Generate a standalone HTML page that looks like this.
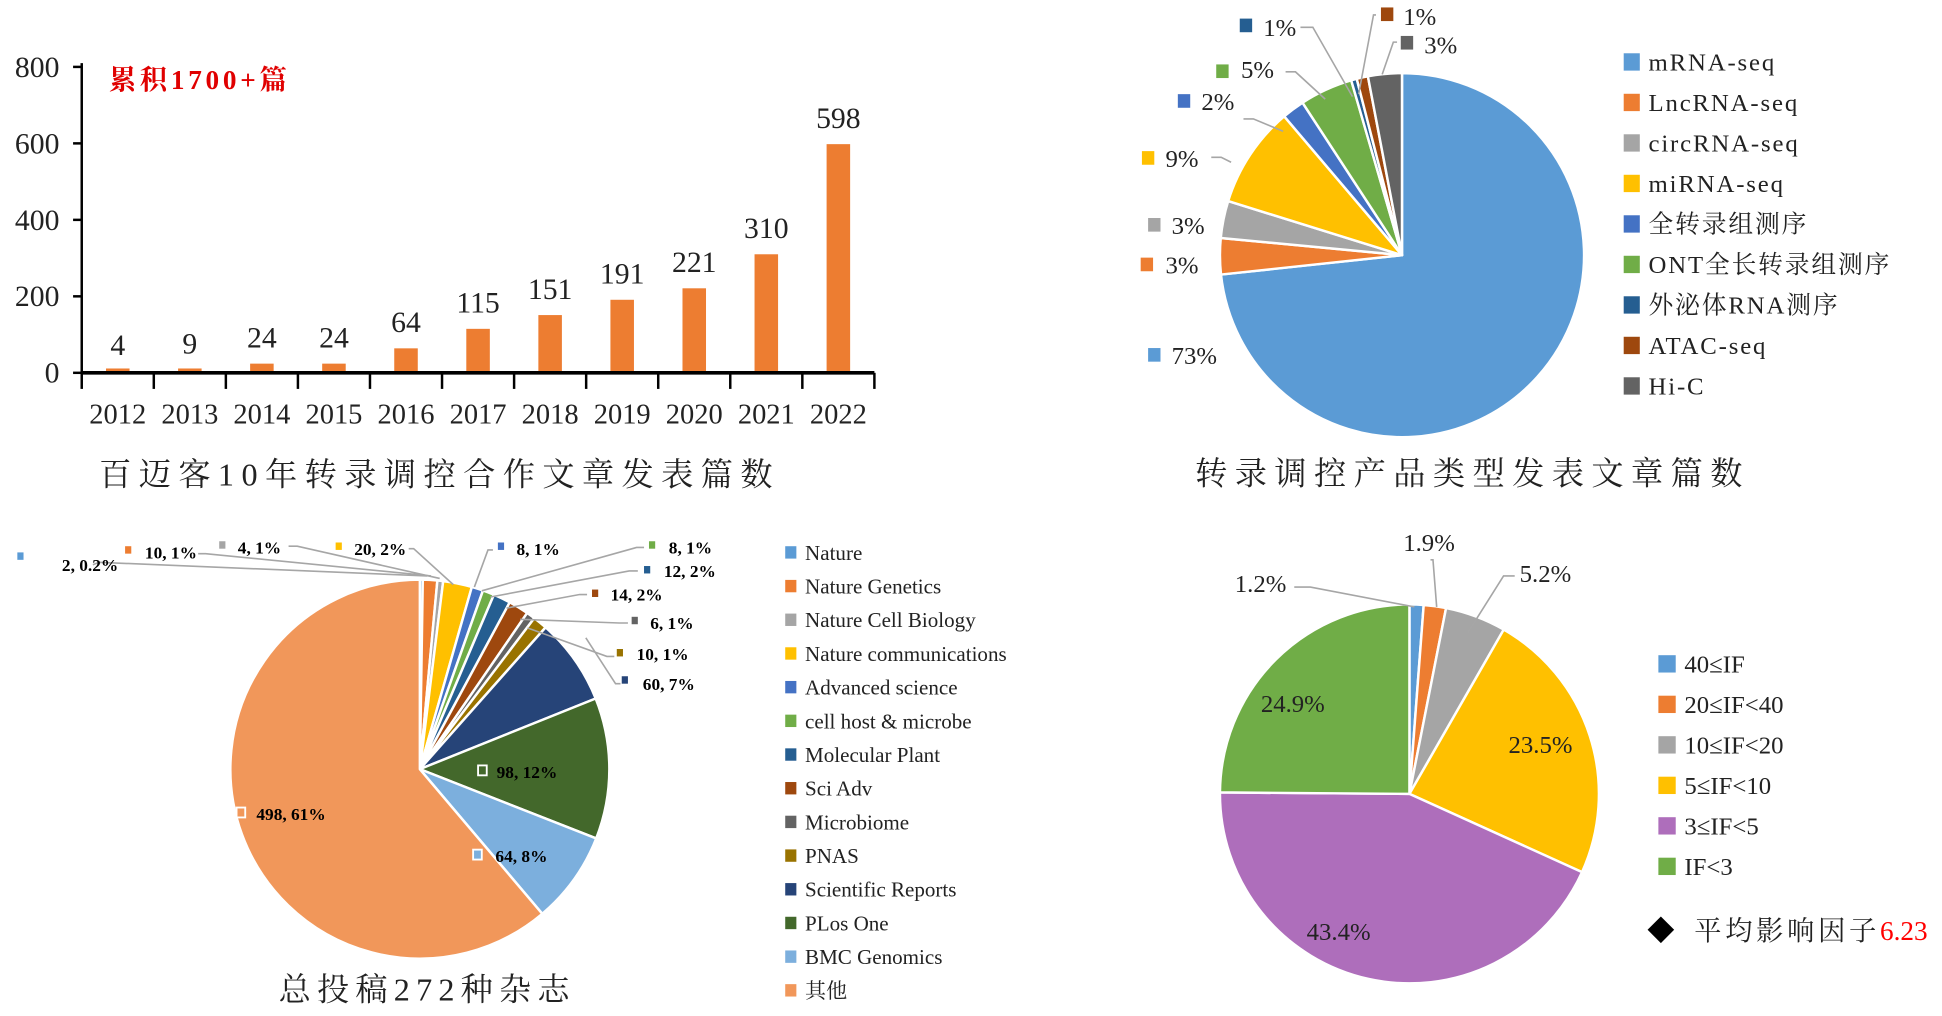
<!DOCTYPE html>
<html><head><meta charset="utf-8"><style>
html,body{margin:0;padding:0;background:#fff;}
svg{display:block;}
text{font-family:"Liberation Serif","Noto Serif CJK SC",serif;}
.cjk{font-family:"Liberation Serif","Noto Serif CJK SC","Noto Sans CJK SC",serif;}
</style></head><body>
<svg id="s" width="1942" height="1016" viewBox="0 0 1568 820.3" xmlns="http://www.w3.org/2000/svg">
<rect width="1568" height="821" fill="#fff"/>
<g id="bars"></g>
<g id="p1"></g><g id="p2"></g><g id="p3"></g>
<g id="labels" font-size="20" fill="#222">
<!-- chart 1 -->
<text x="88" y="72" fill="#e00000" font-size="22" font-weight="bold" class="cjk" letter-spacing="3">累积1700+篇</text>
<text x="80" y="392" font-size="26" class="cjk" letter-spacing="6">百迈客10年转录调控合作文章发表篇数</text>
<!-- chart 2 -->
<g stroke="#a6a6a6" stroke-width="1.3" fill="none">
<polyline points="1050,22 1060,22 1092,78"/>
<polyline points="1111,12 1109,12 1097,76"/>
<polyline points="1128,34 1125,34 1116,60"/>
<polyline points="1038,58 1046,58 1070,80"/>
<polyline points="1004,96 1012,96 1036,106"/>
<polyline points="978,127 986,127 994,131"/>
</g>
<g font-size="20">
<rect x="1001" y="15" width="10" height="11" fill="#255E91"/><text x="1020" y="29">1%</text>
<rect x="1115" y="6" width="10" height="11" fill="#9E480E"/><text x="1133" y="20">1%</text>
<rect x="1131" y="29" width="10" height="11" fill="#636363"/><text x="1150" y="43">3%</text>
<rect x="982" y="52" width="10" height="11" fill="#70AD47"/><text x="1002" y="63">5%</text>
<rect x="951" y="76" width="10" height="11" fill="#4472C4"/><text x="970" y="89">2%</text>
<rect x="922" y="122" width="10" height="11" fill="#FFC000"/><text x="941" y="135">9%</text>
<rect x="927" y="176" width="10" height="11" fill="#A5A5A5"/><text x="946" y="189">3%</text>
<rect x="921" y="208" width="10" height="11" fill="#ED7D31"/><text x="941" y="221">3%</text>
<rect x="927" y="281" width="10" height="11" fill="#5B9BD5"/><text x="946" y="294">73%</text>
</g>
<g id="leg2" font-size="20" class="cjk" letter-spacing="1.5"></g>
<text x="965" y="391" font-size="26" class="cjk" letter-spacing="6">转录调控产品类型发表文章篇数</text>
<!-- chart 3 -->
<g stroke="#a6a6a6" stroke-width="1.3" fill="none">
<polyline points="75,456 80,454 345,465"/>
<polyline points="160,447 166,447 348,465"/>
<polyline points="233,441 240,441 355,467"/>
<polyline points="330,443 334,443 366,472"/>
<polyline points="398,444 394,444 383,474"/>
<polyline points="520,442 514,442 389,477"/>
<polyline points="515,461 508,461 396,482"/>
<polyline points="474,480 468,480 409,491"/>
<polyline points="507,503 500,503 420,500"/>
<polyline points="496,530 490,530 426,507"/>
<polyline points="501,552 497,552 473,515"/>
</g>
<g font-size="14" font-weight="bold" fill="#000">
<rect x="14" y="446" width="5" height="6" fill="#5B9BD5"/><text x="50" y="461">2, 0.2%</text>
<rect x="101" y="441" width="5" height="6" fill="#ED7D31"/><text x="117" y="451">10, 1%</text>
<rect x="177" y="437" width="5" height="6" fill="#A5A5A5"/><text x="192" y="447">4, 1%</text>
<rect x="271" y="438" width="5" height="6" fill="#FFC000"/><text x="286" y="448">20, 2%</text>
<rect x="402" y="438" width="5" height="6" fill="#4472C4"/><text x="417" y="448">8, 1%</text>
<rect x="524" y="437" width="5" height="6" fill="#70AD47"/><text x="540" y="447">8, 1%</text>
<rect x="520" y="457" width="5" height="6" fill="#255E91"/><text x="536" y="466">12, 2%</text>
<rect x="478" y="476" width="5" height="6" fill="#9E480E"/><text x="493" y="485">14, 2%</text>
<rect x="510" y="498" width="5" height="6" fill="#636363"/><text x="525" y="508">6, 1%</text>
<rect x="498" y="524" width="5" height="6" fill="#997300"/><text x="514" y="533">10, 1%</text>
<rect x="502" y="546" width="5" height="6" fill="#264478"/><text x="519" y="557">60, 7%</text>
<rect x="386" y="618" width="7" height="8" fill="#43682B" stroke="#fff" stroke-width="1.5"/><text x="401" y="628">98, 12%</text>
<rect x="382" y="686" width="7" height="8" fill="#7CAFDD" stroke="#fff" stroke-width="1.5"/><text x="400" y="696">64, 8%</text>
<rect x="191" y="652" width="7" height="8" fill="#F1975A" stroke="#fff" stroke-width="1.5"/><text x="207" y="662">498, 61%</text>
</g>
<g id="leg3" font-size="17"></g>
<text x="225" y="808" font-size="26" class="cjk" letter-spacing="5">总投稿272种杂志</text>
<!-- chart 4 -->
<g stroke="#a6a6a6" stroke-width="1.3" fill="none">
<polyline points="1045,474 1058,474 1142,490"/>
<polyline points="1155,452 1157,452 1160,490"/>
<polyline points="1223,465 1214,465 1185,511"/>
</g>
<g font-size="20">
<text x="997" y="478">1.2%</text>
<text x="1133" y="445">1.9%</text>
<text x="1227" y="470">5.2%</text>
<text x="1018" y="575">24.9%</text>
<text x="1218" y="608">23.5%</text>
<text x="1055" y="759">43.4%</text>
</g>
<g id="leg4" font-size="20"></g>
<text x="1330" y="759" font-size="22" fill="#000">◆</text>
<text x="1368" y="759" font-size="22" class="cjk" letter-spacing="3">平均影响因子<tspan fill="#ff0000" letter-spacing="0">6.23</tspan></text>
</g>
</svg>
<script>
var NS="http://www.w3.org/2000/svg";
function el(p,t,a,txt){var e=document.createElementNS(NS,t);for(var k in a)e.setAttribute(k,a[k]);if(txt!=null)e.textContent=txt;p.appendChild(e);return e;}
var g=document.getElementById('bars');
var vals=[4,9,24,24,64,115,151,191,221,310,598];
var x0=66,y0=301,w=640/11,sc=247/800;
el(g,'line',{x1:x0,y1:51,x2:x0,y2:y0+1,stroke:'#000','stroke-width':2});
[0,200,400,600,800].forEach(function(v){var y=y0-v*sc;el(g,'line',{x1:x0-7,y1:y,x2:x0,y2:y,stroke:'#000','stroke-width':2});
el(g,'text',{x:48,y:y+8,'text-anchor':'end','font-size':24,fill:'#222'},v);});
for(var i=0;i<11;i++){var cx=x0+w*(i+0.5),h=Math.max(vals[i]*sc,3.5);
el(g,'rect',{x:cx-9.5,y:y0-h,width:19,height:h,fill:'#ED7D31'});
el(g,'text',{x:cx,y:y0-Math.max(vals[i]*sc,0)-13,'text-anchor':'middle','font-size':24,fill:'#222'},vals[i]);
el(g,'text',{x:cx,y:342,'text-anchor':'middle','font-size':23,fill:'#222'},2012+i);}
el(g,'line',{x1:x0,y1:y0,x2:x0+640,y2:y0,stroke:'#000','stroke-width':3});
for(var i=0;i<=11;i++){var x=x0+w*i;el(g,'line',{x1:x,y1:y0,x2:x,y2:y0+13,stroke:'#000','stroke-width':2});}
function pie(gid,cx,cy,r,v,c,stroke){var p=document.getElementById(gid),s=v.reduce(function(a,b){return a+b},0),a=0;
v.forEach(function(val,i){var a1=a+val/s*2*Math.PI;var xa=cx+r*Math.sin(a),ya=cy-r*Math.cos(a),xb=cx+r*Math.sin(a1),yb=cy-r*Math.cos(a1);
el(p,'path',{d:'M'+cx+','+cy+'L'+xa+','+ya+'A'+r+','+r+' 0 '+((a1-a)>Math.PI?1:0)+' 1 '+xb+','+yb+'Z',fill:c[i],stroke:stroke||'none','stroke-width':stroke?2:0,'stroke-linejoin':'round'});a=a1;});}
pie('p1',1132,206,147,[73.3,3.2,3.3,9,2,4.7,0.5,1,3],['#5B9BD5','#ED7D31','#A5A5A5','#FFC000','#4472C4','#70AD47','#255E91','#9E480E','#636363'],'#fff');
var c3=['#5B9BD5','#ED7D31','#A5A5A5','#FFC000','#4472C4','#70AD47','#255E91','#9E480E','#636363','#997300','#264478','#43682B','#7CAFDD','#F1975A'];
pie('p2',339,621,153,[2,10,4,20,8,8,12,14,6,10,60,98,64,498],c3,'#fff');
var c4=['#5B9BD5','#ED7D31','#A5A5A5','#FFC000','#AE6EBB','#70AD47'];
pie('p3',1138,641,153,[1.2,1.9,5.2,23.5,43.4,24.9],c4,'#fff');
var l2=['mRNA-seq','LncRNA-seq','circRNA-seq','miRNA-seq','全转录组测序','ONT全长转录组测序','外泌体RNA测序','ATAC-seq','Hi-C'];
var c2=['#5B9BD5','#ED7D31','#A5A5A5','#FFC000','#4472C4','#70AD47','#255E91','#9E480E','#636363'];
var L=document.getElementById('leg2');
l2.forEach(function(t,i){var y=50+i*32.7;el(L,'rect',{x:1311,y:y-7,width:13,height:14,fill:c2[i]});el(L,'text',{x:1331,y:y+7,fill:'#222'},t);});
var l3=['Nature','Nature Genetics','Nature Cell Biology','Nature communications','Advanced science','cell host & microbe','Molecular Plant','Sci Adv','Microbiome','PNAS','Scientific Reports','PLos One','BMC Genomics','其他'];
L=document.getElementById('leg3');
l3.forEach(function(t,i){var y=446+i*27.2;el(L,'rect',{x:634,y:y-5,width:9,height:10,fill:c3[i]});el(L,'text',{x:650,y:y+6,fill:'#222',class:'cjk'},t);});
var l4=['40≤IF','20≤IF<40','10≤IF<20','5≤IF<10','3≤IF<5','IF<3'];
L=document.getElementById('leg4');
l4.forEach(function(t,i){var y=536+i*32.7;el(L,'rect',{x:1339,y:y-7,width:14,height:14,fill:c4[i]});el(L,'text',{x:1360,y:y+7,fill:'#222'},t);});
</script>
</body></html>
